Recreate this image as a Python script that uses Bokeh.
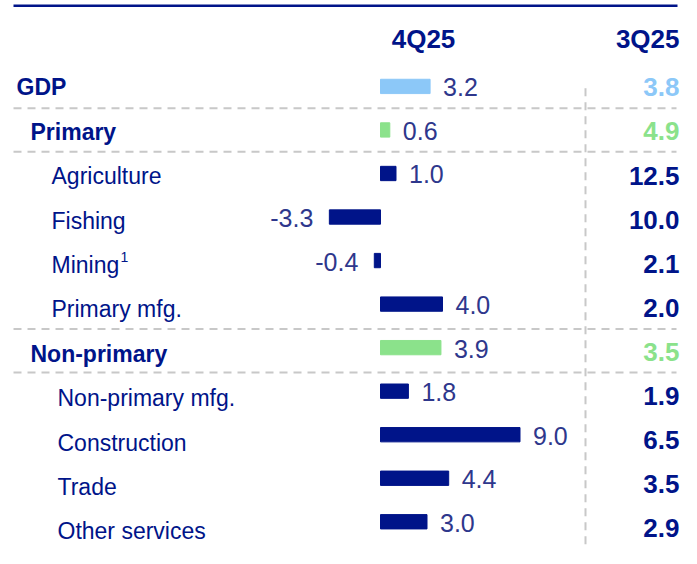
from bokeh.plotting import figure
from bokeh.models import Range1d, ColumnDataSource
from bokeh.core.properties import value
from bokeh.embed import file_html
from bokeh.resources import INLINE

# ---------------- data ----------------
categories = ["GDP", "Primary", "Agriculture", "Fishing", "Mining", "Primary mfg.",
              "Non-primary", "Non-primary mfg.", "Construction", "Trade", "Other services"]
q4_values = [3.2, 0.6, 1.0, -3.3, -0.4, 4.0, 3.9, 1.8, 9.0, 4.4, 3.0]
q3_values = [3.8, 4.9, 12.5, 10.0, 2.1, 2.0, 3.5, 1.9, 6.5, 3.5, 2.9]
levels = [0, 1, 2, 2, 2, 2, 1, 2, 2, 2, 2]
headers = ["4Q25", "3Q25"]
footnotes = {"Mining": "1"}

# ---------------- layout / style ----------------
W, H = 681, 548
PX_PER_UNIT = 15.5     # horizontal pixels per percentage point
ZERO_PX = 380          # x pixel of the zero line
ROW0_PX = 90           # y pixel of first bar row
ROW_PX = 45.6          # row spacing in pixels
RIGHT_PX = 679         # right edge of the previous-quarter column

NAVY = "#001489"
LBLUE = "#8CC8F8"
GREEN = "#8BE28B"
VALC = "#2E378C"
GRID = "#C8C8C8"
FONT = value("Liberation Sans")


def xd(px):   # pixel x -> data x
    return (px - ZERO_PX) / PX_PER_UNIT


def yd(py):   # pixel y (reference layout) -> data y (row units)
    return (py - ROW0_PX) / ROW_PX


p = figure(width=W, height=H, output_backend="svg", toolbar_location=None,
           x_range=Range1d(xd(0), xd(W)),
           y_range=Range1d(yd(574), yd(0)),
           min_border=0, outline_line_color=None)
p.axis.visible = False
p.grid.visible = False
p.background_fill_color = "white"
p.border_fill_color = "white"

level_color = {0: LBLUE, 1: GREEN, 2: NAVY}
rows = list(range(len(categories)))

# top rule
p.line([xd(13), xd(677)], [yd(5.5), yd(5.5)], line_color=NAVY, line_width=2.5)

# dashed separators
for b in [0.5, 1.5, 5.57, 6.57]:
    p.line([xd(13), xd(676)], [b, b], line_color=GRID, line_width=2, line_dash="8 6")
p.line([xd(585), xd(585)], [yd(92), yd(580)], line_color=GRID, line_width=2, line_dash="8 6")

# bars
src = ColumnDataSource(dict(y=rows, right=q4_values,
                            color=[level_color[l] for l in levels]))
p.hbar(y="y", left=0, right="right", height=15 / ROW_PX, color="color", source=src)

# value labels next to bars
pos_x, pos_y, pos_t, neg_x, neg_y, neg_t = [], [], [], [], [], []
for r, v in zip(rows, q4_values):
    if v >= 0:
        pos_x.append(v + 13 / PX_PER_UNIT); pos_y.append(r + 1 / ROW_PX); pos_t.append(f"{v:.1f}")
    else:
        neg_x.append(v - 16 / PX_PER_UNIT); neg_y.append(r + 1 / ROW_PX); neg_t.append(f"{v:.1f}")
p.text(pos_x, pos_y, text=pos_t, text_align="left", text_baseline="middle",
       text_font=FONT, text_font_size="25px", text_color=VALC)
p.text(neg_x, neg_y, text=neg_t, text_align="right", text_baseline="middle",
       text_font=FONT, text_font_size="25px", text_color=VALC)

# category labels
indent = {0: 16, 1: 30}
lab_x, lab_y, lab_t, lab_bold = [], [], [], []
group = 0
for r, (c, l) in enumerate(zip(categories, levels)):
    if l == 1:
        group += 1
    if l == 2:
        x = 51 if group == 1 else 57
    else:
        x = indent[l]
    ly = 91 + 46.5 * r
    lab_x.append(xd(x)); lab_y.append(yd(ly)); lab_t.append(c); lab_bold.append(l < 2)
    if c in footnotes:
        p.text([xd(x + 69)], [yd(ly - 8)], text=[footnotes[c]], text_align="left",
               text_baseline="middle", text_font=FONT, text_font_size="14px", text_color=NAVY)

bx = [a for a, b in zip(lab_x, lab_bold) if b]
by = [a for a, b in zip(lab_y, lab_bold) if b]
bt = [a for a, b in zip(lab_t, lab_bold) if b]
nx = [a for a, b in zip(lab_x, lab_bold) if not b]
ny = [a for a, b in zip(lab_y, lab_bold) if not b]
nt = [a for a, b in zip(lab_t, lab_bold) if not b]
p.text(bx, by, text=bt, text_align="left", text_baseline="middle", text_font=FONT,
       text_font_size="23px", text_font_style="bold", text_color=NAVY)
p.text(nx, ny, text=nt, text_align="left", text_baseline="middle", text_font=FONT,
       text_font_size="23px", text_color=NAVY)

# headers
p.text([xd(423)], [yd(40)], text=[headers[0]], text_align="center", text_baseline="middle",
       text_font=FONT, text_font_size="26px", text_font_style="bold", text_color=NAVY)
p.text([xd(RIGHT_PX)], [yd(40)], text=[headers[1]], text_align="right", text_baseline="middle",
       text_font=FONT, text_font_size="26px", text_font_style="bold", text_color=NAVY)

# previous-quarter column
rx = [xd(RIGHT_PX)] * len(rows)
ry = [yd(91 + 46.2 * r) for r in rows]
rsrc = ColumnDataSource(dict(x=rx, y=ry, t=[f"{v:.1f}" for v in q3_values],
                             c=[level_color[l] for l in levels]))
p.text("x", "y", text="t", text_color="c", source=rsrc, text_align="right",
       text_baseline="middle", text_font=FONT, text_font_size="26px", text_font_style="bold")

open("out.html", "w").write(file_html(p, INLINE))
